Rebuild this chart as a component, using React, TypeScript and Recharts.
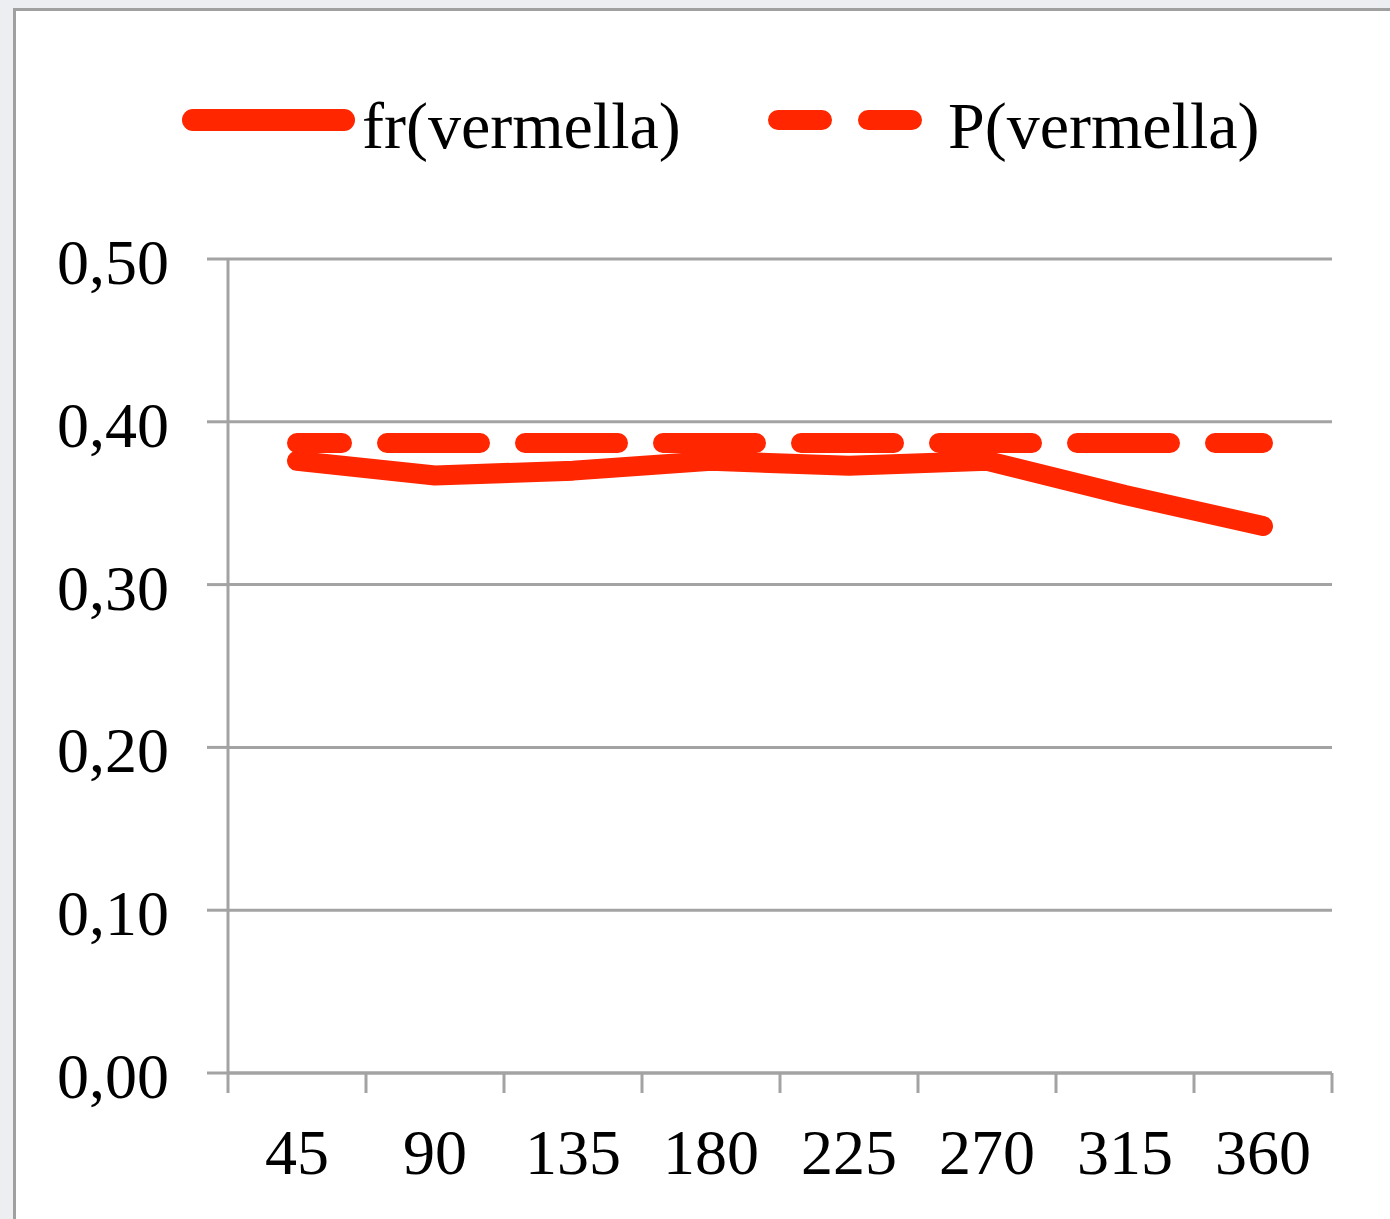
import React from 'react';
import { LineChart, Line, XAxis, YAxis, CartesianGrid, Legend } from 'recharts';

const angles = ['45', '90', '135', '180', '225', '270', '315', '360'];
const frValues = [0.376, 0.367, 0.37, 0.376, 0.373, 0.376, 0.355, 0.336];
const pValues = [0.387, 0.387, 0.387, 0.387, 0.387, 0.387, 0.387, 0.387];
const yTicks = [0, 0.1, 0.2, 0.3, 0.4, 0.5];
const boundaryTicks = [0, 1, 2, 3, 4, 5, 6, 7, 8];
const centerTicks = [0.5, 1.5, 2.5, 3.5, 4.5, 5.5, 6.5, 7.5];

const data = angles.map((a, i) => ({ angle: a, idx: i + 0.5, fr: frValues[i], p: pValues[i] }));

const RED = '#ff2600';
const GRID = '#a3a3a3';
const FONT = '"Liberation Serif", "Times New Roman", serif';

const YTick = (props: any) => {
  const { x, y, payload } = props;
  return (
    <text x={x} y={y} dy={25} textAnchor="end" fontFamily={FONT} fontSize={64} fill="#000">
      {Number(payload.value).toFixed(2).replace('.', ',')}
    </text>
  );
};

const XTick = (props: any) => {
  const { x, y, payload } = props;
  const label = angles[Math.floor(payload.value)];
  return (
    <text x={x} y={y} dy={100} textAnchor="middle" fontFamily={FONT} fontSize={64} fill="#000">
      {label}
    </text>
  );
};

const EmptyTick = () => null;

const LegendContent = () => (
  <svg width={1390} height={200} style={{ display: 'block' }}>
    <line x1={193} y1={120} x2={344} y2={120} stroke={RED} strokeWidth={22} strokeLinecap="round" />
    <text x={362} y={148} fontFamily={FONT} fontSize={66} fill="#000">fr(vermella)</text>
    <line x1={778} y1={120} x2={914} y2={120} stroke={RED} strokeWidth={20} strokeLinecap="round" strokeDasharray="44 46" />
    <text x={948} y={148} fontFamily={FONT} fontSize={66} fill="#000">P(vermella)</text>
  </svg>
);

export default function App() {
  return (
    <div style={{ position: 'absolute', left: 0, top: 0, width: 1390, height: 1219, background: '#eceef1', overflow: 'hidden' }}>
      <div
        style={{
          position: 'absolute',
          left: 13,
          top: 8,
          width: 1400,
          height: 1240,
          background: '#ffffff',
          borderLeft: '3px solid #a0a0a0',
          borderTop: '3px solid #a0a0a0',
        }}
      />
      <div style={{ position: 'absolute', left: 0, top: 0 }}>
        <LineChart width={1390} height={1219} data={data} margin={{ top: 259, right: 58, bottom: 25, left: 0 }}>
          <CartesianGrid vertical={false} stroke={GRID} strokeWidth={3} yAxisId="y" xAxisId="cat" />
          <XAxis
            xAxisId="bound"
            type="number"
            dataKey="idx"
            domain={[0, 8]}
            ticks={boundaryTicks}
            tick={EmptyTick}
            tickSize={20}
            height={1}
            axisLine={{ stroke: GRID, strokeWidth: 3 }}
            tickLine={{ stroke: GRID, strokeWidth: 3 }}
            interval={0}
            allowDataOverflow
          />
          <XAxis
            xAxisId="cat"
            type="number"
            dataKey="idx"
            domain={[0, 8]}
            ticks={centerTicks}
            tick={<XTick />}
            tickSize={0}
            tickMargin={0}
            height={120}
            axisLine={false}
            tickLine={false}
            interval={0}
          />
          <YAxis
            yAxisId="y"
            type="number"
            domain={[0, 0.5]}
            ticks={yTicks}
            width={228}
            tickSize={21}
            tickMargin={38}
            tick={<YTick />}
            axisLine={{ stroke: GRID, strokeWidth: 3 }}
            tickLine={{ stroke: GRID, strokeWidth: 3 }}
            interval={0}
          />
          <Legend
            layout="vertical"
            align="center"
            verticalAlign="middle"
            content={<LegendContent />}
            wrapperStyle={{ position: 'absolute', top: 0, left: 0, width: 1390, height: 200 }}
          />
          <Line
            xAxisId="cat"
            yAxisId="y"
            type="linear"
            dataKey="fr"
            name="fr(vermella)"
            stroke={RED}
            strokeWidth={20}
            strokeLinecap="round"
            strokeLinejoin="round"
            dot={false}
            activeDot={false}
            isAnimationActive={false}
          />
          <Line
            xAxisId="cat"
            yAxisId="y"
            type="linear"
            dataKey="p"
            name="P(vermella)"
            stroke={RED}
            strokeWidth={20}
            strokeLinecap="round"
            strokeDasharray="93 45"
            strokeDashoffset={48}
            dot={false}
            activeDot={false}
            isAnimationActive={false}
          />
        </LineChart>
      </div>
    </div>
  );
}
